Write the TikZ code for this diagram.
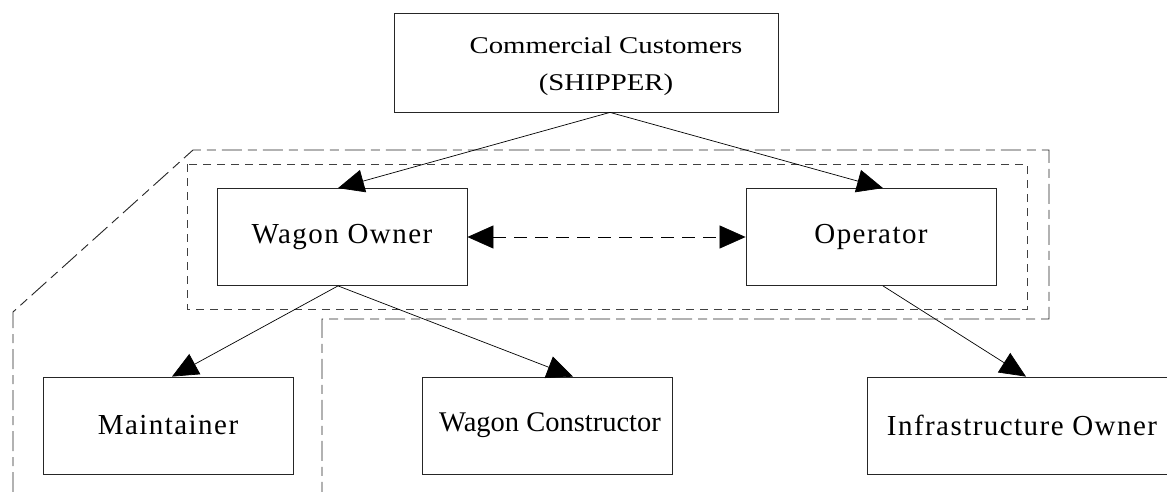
\documentclass[tikz,border=0pt]{standalone}
\usepackage{fontspec}
\usetikzlibrary{arrows.meta}

\newfontfamily\shipperfont[FakeStretch=1.2]{Liberation Serif}
\newfontfamily\rolefont[LetterSpace=5]{Liberation Serif}
\newfontfamily\plainfont{Liberation Serif}

\begin{document}
\begin{tikzpicture}[x=1pt,y=-1pt,
    rolebox/.style={draw=black!85,line width=0.8pt,minimum width=250pt,
        minimum height=97pt,inner sep=0pt,
        font=\rolefont\fontsize{29pt}{32pt}\selectfont},
    flow/.style={-{Triangle[length=26pt,width=23pt]},line width=0.7pt},
    owners/.style={draw=black!75,line width=0.9pt,dash pattern=on 8pt off 6pt},
    company/.style={draw=black!85,line width=0.9pt,
        dash pattern=on 20pt off 6pt on 9pt off 6pt}]
    \useasboundingbox (0,0) rectangle (1167,492);

    % actors
    \node[rolebox,minimum width=384pt,minimum height=99pt,align=center,
        font=\shipperfont\fontsize{24pt}{37pt}\selectfont]
        (S) at (586,62.5) {\rule{0pt}{24pt}\hspace*{40pt}Commercial Customers\\\hspace*{40pt}(SHIPPER)};
    \node[rolebox] (WO) at (342,237) {Wagon Owner};
    \node[rolebox] (OP) at (871,237) {Operator};
    \node[rolebox] (MA) at (168,425.5) {Maintainer};
    \node[rolebox,font=\plainfont\fontsize{28.5pt}{31pt}\selectfont]
        (WC) at (547,425.5) {\hspace*{6pt}Wagon Constructor};
    \node[rolebox,minimum width=310pt] (IO) at (1022,425.5) {Infrastructure Owner};

    % groupings
    \draw[owners] (187,164) rectangle (1027,309);
    \draw[company] (13,492) -- (13,312) -- (193,150) -- (1049,150)
        -- (1049,319) -- (322,319) -- (322,492);

    % relations
    \draw[flow] ([xshift=24pt]S.south) -- ([xshift=-4pt]WO.north);
    \draw[flow] ([xshift=24pt]S.south) -- ([xshift=12pt]OP.north);
    \draw[flow] ([xshift=-4pt]WO.south) -- ([xshift=4pt]MA.north);
    \draw[flow] ([xshift=-4pt]WO.south) -- ([xshift=26pt]WC.north);
    \draw[flow] ([xshift=12pt]OP.south) -- ([xshift=4pt]IO.north);
    \draw[flow,{Triangle[length=26pt,width=23pt]}-{Triangle[length=26pt,width=23pt]},
        dash pattern=on 13pt off 8pt] (WO.east) -- (OP.west);

\end{tikzpicture}
\end{document}
